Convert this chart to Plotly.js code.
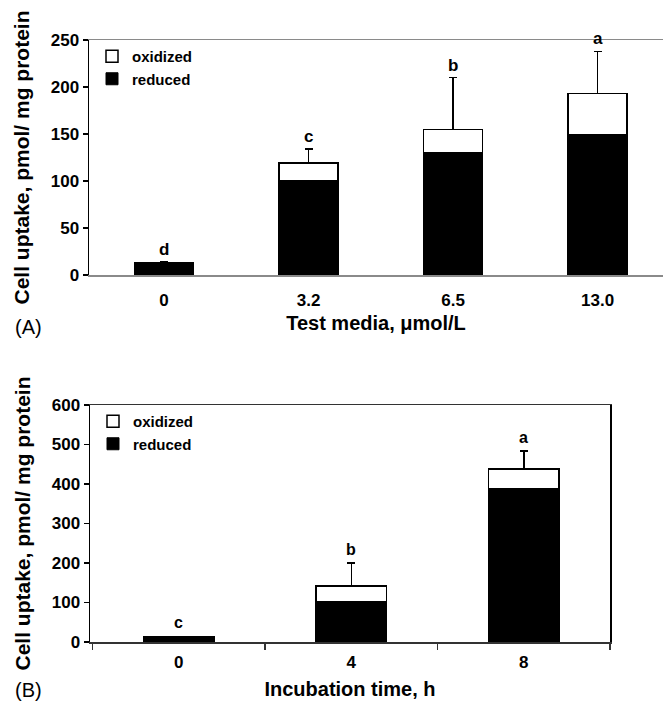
<!DOCTYPE html>
<html>
<head>
<meta charset="utf-8">
<script src="https://cdn.plot.ly/plotly-3.0.1.min.js"></script>
<style>html,body{margin:0;padding:0;background:#fff;}</style>
</head>
<body>
<div id="chart" style="width:663px;height:701px;"></div>
<script>
// Panel A: test media concentration
const mediaCats = ['0', '3.2', '6.5', '13.0'];
const mediaReduced = [13, 100, 130, 149];
const mediaOxidized = [0, 19, 25, 44];
const mediaErr = [1, 15, 55, 45];
const mediaLetters = ['d', 'c', 'b', 'a'];

// Panel B: incubation time
const timeCats = ['0', '4', '8'];
const timeReduced = [14, 101, 387];
const timeOxidized = [0, 41, 51];
const timeErr = [0, 58, 45];
const timeLetters = ['c', 'b', 'a'];

const W = 663, H = 701;
const FONT = 'Liberation Sans, Arial, Helvetica, sans-serif';

function sum(a, b) { return a.map((v, i) => v + b[i]); }

const traces = [
  {type:'bar', name:'reduced', x:mediaCats, y:mediaReduced, xaxis:'x', yaxis:'y', legend:'legend',
   width:0.41, marker:{color:'#000', line:{color:'#000', width:1}}, hoverinfo:'skip'},
  {type:'bar', name:'oxidized', x:mediaCats, y:mediaOxidized, xaxis:'x', yaxis:'y', legend:'legend',
   width:0.41, marker:{color:'#fff', line:{color:'#000', width:1.5}}, hoverinfo:'skip',
   error_y:{type:'data', symmetric:false, array:mediaErr, arrayminus:mediaErr.map(() => 0),
            color:'#000', thickness:1.5, width:4}},
  {type:'bar', name:'reduced', x:timeCats, y:timeReduced, xaxis:'x2', yaxis:'y2', legend:'legend2',
   width:0.41, marker:{color:'#000', line:{color:'#000', width:1}}, hoverinfo:'skip'},
  {type:'bar', name:'oxidized', x:timeCats, y:timeOxidized, xaxis:'x2', yaxis:'y2', legend:'legend2',
   width:0.41, marker:{color:'#fff', line:{color:'#000', width:1.5}}, hoverinfo:'skip',
   error_y:{type:'data', symmetric:false, array:timeErr, arrayminus:timeErr.map(() => 0),
            color:'#000', thickness:1.5, width:4}}
];

const mediaTop = sum(sum(mediaReduced, mediaOxidized), mediaErr);
const timeTop = sum(sum(timeReduced, timeOxidized), timeErr);

const annotations = [];
// category axes: annotation x given as category index
mediaCats.forEach((c, i) => annotations.push({
  xref:'x', yref:'y', x:i, y:mediaTop[i], text:mediaLetters[i], showarrow:false,
  yanchor:'bottom', yshift:1, font:{family:FONT, size:17, weight:'bold', color:'#000'}
}));
timeCats.forEach((c, i) => annotations.push({
  xref:'x2', yref:'y2', x:i, y:timeTop[i], text:timeLetters[i], showarrow:false,
  yanchor:'bottom', yshift:3, font:{family:FONT, size:16, weight:'bold', color:'#000'}
}));
annotations.push({xref:'paper', yref:'paper', x:13/W, y:(H-327)/H, xanchor:'left', yanchor:'middle',
  text:'(A)', showarrow:false, font:{family:FONT, size:20, color:'#000'}});
annotations.push({xref:'paper', yref:'paper', x:13/W, y:(H-690)/H, xanchor:'left', yanchor:'middle',
  text:'(B)', showarrow:false, font:{family:FONT, size:20, color:'#000'}});

const tickFont = {family:FONT, size:17, weight:'bold', color:'#000'};
const yTitleFont = {family:FONT, size:21, weight:'bold', color:'#000'};
const xTitleFont = {family:FONT, size:20, weight:'bold', color:'#000'};
const legendFont = {family:FONT, size:15, weight:'bold', color:'#000'};

const layout = {
  width:W, height:H,
  margin:{l:0, r:0, t:0, b:0},
  paper_bgcolor:'#fff', plot_bgcolor:'#fff',
  barmode:'stack',
  font:{family:FONT, color:'#000'},
  xaxis:{domain:[89/W, 1], anchor:'y', type:'category', range:[-0.519, 3.453],
    showline:true, linecolor:'#8a8a8a', linewidth:1.5, mirror:true, ticks:'',
    showgrid:false, zeroline:false, tickfont:tickFont, ticklabelstandoff:9,
    title:{text:'Test media, \u03bcmol/L', font:xTitleFont, standoff:7}},
  yaxis:{domain:[(H-275)/H, (H-40)/H], anchor:'x', range:[0, 250], dtick:50,
    showline:true, linecolor:'#000', linewidth:1.5, ticks:'outside', ticklen:5, tickwidth:1.5,
    tickcolor:'#000', showgrid:false, zeroline:false, tickfont:tickFont,
    title:{text:'Cell uptake, pmol/ mg protein', font:yTitleFont, standoff:15}},
  xaxis2:{domain:[90/W, 610/W], anchor:'y2', type:'category', range:[-0.515, 2.5],
    showline:true, linecolor:'#333', linewidth:1.5, mirror:true, ticks:'outside',
    tickson:'boundaries', ticklen:6, tickwidth:1.5, tickcolor:'#333',
    showgrid:false, zeroline:false, tickfont:tickFont, ticklabelstandoff:4,
    title:{text:'Incubation time, h', font:xTitleFont, standoff:11}},
  yaxis2:{domain:[(H-642)/H, (H-405)/H], anchor:'x2', range:[0, 600], dtick:100,
    showline:true, linecolor:'#000', linewidth:1.5, mirror:true, ticks:'outside', ticklen:5,
    tickwidth:1.5, tickcolor:'#000', showgrid:false, zeroline:false, tickfont:tickFont,
    title:{text:'Cell uptake, pmol/ mg protein', font:yTitleFont, standoff:15}},
  legend:{x:92/W, y:(H-40)/H, xanchor:'left', yanchor:'top', bgcolor:'rgba(0,0,0,0)',
    font:legendFont, traceorder:'reversed', tracegroupgap:0},
  legend2:{x:93/W, y:(H-405)/H, xanchor:'left', yanchor:'top', bgcolor:'rgba(0,0,0,0)',
    font:legendFont, traceorder:'reversed', tracegroupgap:0},
  annotations:annotations,
  showlegend:true
};

Plotly.newPlot('chart', traces, layout, {staticPlot:true, displayModeBar:false});
</script>
</body>
</html>
